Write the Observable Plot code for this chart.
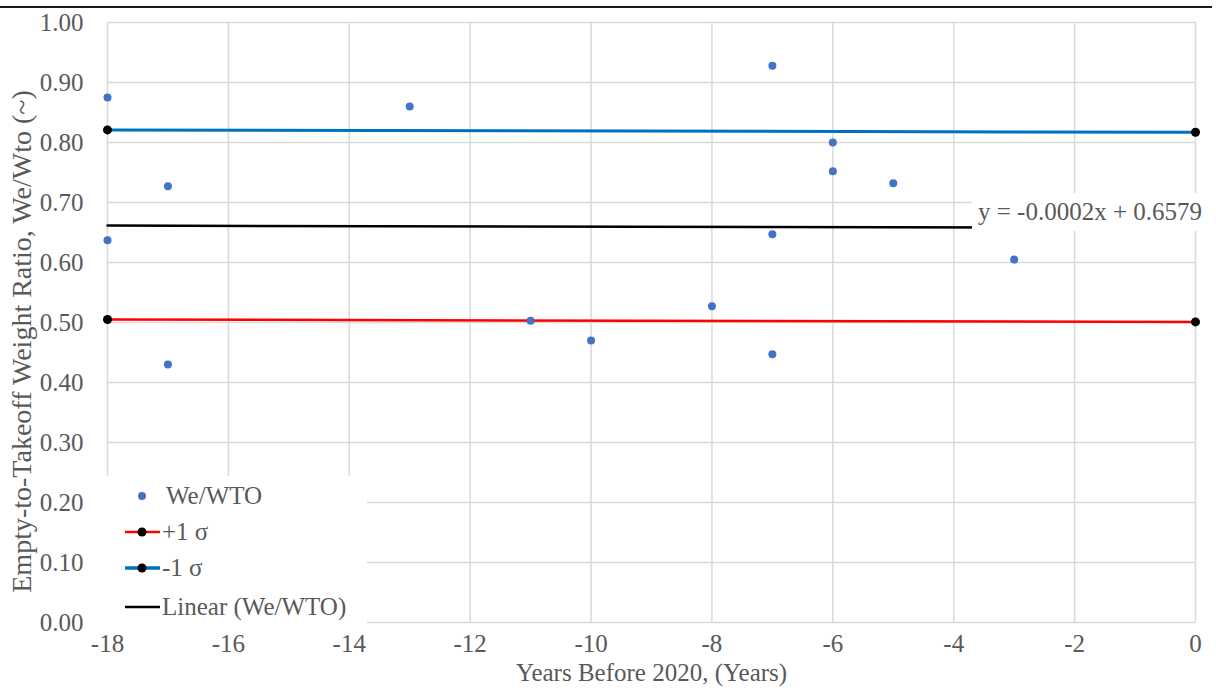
<!DOCTYPE html>
<html>
<head>
<meta charset="utf-8">
<script src="https://cdn.jsdelivr.net/npm/d3@7"></script>
<script src="https://cdn.jsdelivr.net/npm/@observablehq/plot@0.6"></script>
<style>
  body { margin: 0; background: #fff; }
  #wrap { position: relative; width: 1216px; height: 694px; overflow: hidden; font-family: "Liberation Serif", "Times New Roman", serif; color: #595959; }
  #topline { position: absolute; left: 0; top: 6px; width: 1212px; height: 2px; background: #1a1a1a; }
  #legend { position: absolute; left: 100px; top: 476px; width: 267px; height: 150px; background: #fff; }
  .li { position: absolute; left: 22px; height: 30px; display: flex; align-items: center; font-size: 25px; color: #595959; white-space: nowrap; }
  .li svg { display: block; }
  #eq { position: absolute; left: 972px; top: 193px; width: 244px; height: 38px; background: #fff; font-size: 25px; color: #595959; line-height: 38px; padding-left: 6px; box-sizing: border-box; white-space: nowrap; }
</style>
</head>
<body>
<div id="wrap">
  <div id="chart"></div>
  <div id="topline"></div>
  <div id="eq"></div>
  <div id="legend"></div>
</div>
<script>
// ---- data ----
const years  = [-18, -18, -17, -17, -13, -11, -10, -8, -7, -7, -7, -6, -6, -5, -3];
const ratios = [0.875, 0.637, 0.727, 0.430, 0.860, 0.503, 0.470, 0.527, 0.928, 0.647, 0.447, 0.800, 0.752, 0.732, 0.605];

const sigmaX     = [-18, 0];
const plusSigma  = [0.505, 0.501];   // red line
const minusSigma = [0.821, 0.817];   // blue line

const trendSlope = -0.0002;
const trendIntercept = 0.6579;
const trendX = [-18, -3];
const trendLabel = "y = -0.0002x + 0.6579";

const xTicks = [-18, -16, -14, -12, -10, -8, -6, -4, -2, 0];
const yTicks = [0, 0.1, 0.2, 0.3, 0.4, 0.5, 0.6, 0.7, 0.8, 0.9, 1.0];

const xTitle = "Years Before 2020, (Years)";
const yTitle = "Empty-to-Takeoff Weight Ratio, We/Wto (~)";
const legendItems = [
  {label: "We/WTO", kind: "dot"},
  {label: "+1 σ", kind: "red"},
  {label: "-1 σ", kind: "blue"},
  {label: "Linear (We/WTO)", kind: "trend"}
];

// ---- tables ----
const points = years.map((x, i) => ({x, y: ratios[i]}));
const plusLine = sigmaX.map((x, i) => ({x, y: plusSigma[i]}));
const minusLine = sigmaX.map((x, i) => ({x, y: minusSigma[i]}));
const trendLine = trendX.map(x => ({x, y: trendSlope * x + trendIntercept}));

const BLUE_DOT = "#4472C4", RED = "#FF0000", BLUE = "#0070C0", GRID = "#d9d9d9", TXT = "#595959";

const chart = Plot.plot({
  width: 1216,
  height: 694,
  marginLeft: 107,
  marginRight: 21,
  marginTop: 22,
  marginBottom: 72,
  x: {domain: [-18, 0]},
  y: {domain: [0, 1]},
  style: {fontFamily: "'Liberation Serif', 'Times New Roman', serif", fontSize: "25px", color: TXT, background: "white"},
  marks: [
    Plot.gridX(xTicks, {stroke: GRID, strokeOpacity: 1, strokeWidth: 1.5}),
    Plot.gridY(yTicks, {stroke: GRID, strokeOpacity: 1, strokeWidth: 1.5}),
    Plot.axisX({ticks: xTicks, tickSize: 0, tickPadding: 12, tickFormat: d => String(d), label: null, fill: TXT, fontSize: 25}),
    Plot.axisY({ticks: yTicks, tickSize: 0, tickPadding: 24, tickFormat: d3.format(".2f"), label: null, fill: TXT, fontSize: 25}),
    Plot.text([xTitle], {frameAnchor: "bottom", dy: 58, fill: TXT, fontSize: 25}),
    Plot.text([yTitle], {frameAnchor: "left", textAnchor: "middle", rotate: -90, dx: -85, dy: 19, fill: TXT, fontSize: 28}),
    Plot.line(trendLine, {x: "x", y: "y", stroke: "black", strokeWidth: 2.5}),
    Plot.line(minusLine, {x: "x", y: "y", stroke: BLUE, strokeWidth: 3}),
    Plot.line(plusLine, {x: "x", y: "y", stroke: RED, strokeWidth: 2.5}),
    Plot.dot(minusLine, {x: "x", y: "y", r: 4.5, fill: "black"}),
    Plot.dot(plusLine, {x: "x", y: "y", r: 4.5, fill: "black"}),
    Plot.dot(points, {x: "x", y: "y", r: 4, fill: BLUE_DOT})
  ]
});
document.getElementById("chart").appendChild(chart);

// equation label
document.getElementById("eq").textContent = trendLabel;

// legend
const legend = document.getElementById("legend");
const rowTops = [5, 41, 77, 116];
legendItems.forEach((it, i) => {
  const row = document.createElement("div");
  row.className = "li";
  row.style.top = rowTops[i] + "px";
  let sw = "";
  if (it.kind === "dot") {
    sw = `<svg width="44" height="30"><circle cx="20" cy="15" r="4" fill="${BLUE_DOT}"/></svg>`;
  } else if (it.kind === "red") {
    sw = `<svg width="40" height="30"><line x1="3" x2="38" y1="15" y2="15" stroke="${RED}" stroke-width="2.5"/><circle cx="20" cy="15" r="4.5" fill="black"/></svg>`;
  } else if (it.kind === "blue") {
    sw = `<svg width="40" height="30"><line x1="3" x2="38" y1="15" y2="15" stroke="${BLUE}" stroke-width="3.5"/><circle cx="20" cy="15" r="4.5" fill="black"/></svg>`;
  } else {
    sw = `<svg width="40" height="30"><line x1="3" x2="38" y1="15" y2="15" stroke="black" stroke-width="2.5"/></svg>`;
  }
  row.innerHTML = sw + `<span>${it.label}</span>`;
  legend.appendChild(row);
});
</script>
</body>
</html>
